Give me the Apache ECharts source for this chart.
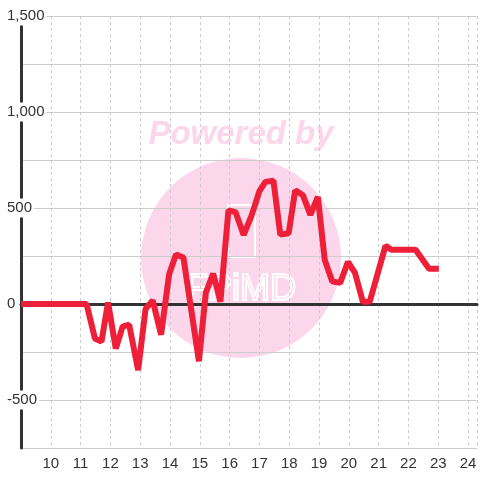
<!DOCTYPE html>
<html>
<head>
<meta charset="utf-8">
<script src="https://cdn.jsdelivr.net/npm/echarts@6/dist/echarts.min.js"></script>
<style>
html, body { margin: 0; padding: 0; background: #fff; }
#chart { width: 480px; height: 480px; }
</style>
</head>
<body>
<div id="chart"></div>
<script>
// x = time of day (hours), y = value
var hours = [9, 11.2, 11.48, 11.7, 11.92, 12.18, 12.41, 12.63, 12.93, 13.18, 13.42, 13.7,
    13.97, 14.2, 14.45, 14.97, 15.2, 15.45, 15.69, 15.96, 16.2, 16.47, 16.73, 17.0, 17.2,
    17.47, 17.7, 17.98, 18.2, 18.46, 18.71, 18.96, 19.19, 19.44, 19.71, 19.97, 20.2, 20.47,
    20.7, 21.23, 21.43, 22.24, 22.69, 23.02];
var values = [0, 0, -180, -196, 8, -232, -118, -108, -345, -25, 18, -160,
    155, 258, 242, -298, 58, 158, 12, 488, 478, 360, 458, 588, 636,
    642, 362, 368, 592, 566, 464, 558, 230, 118, 110, 220, 165, 12,
    12, 303, 282, 282, 184, 184];
var xLabels = [10, 11, 12, 13, 14, 15, 16, 17, 18, 19, 20, 21, 22, 23, 24];
var yLabels = [-500, 0, 500, 1000, 1500];

var points = []
for (var i = 0; i < hours.length; i++) {
    points.push([hours[i], values[i]])
}

var chart = echarts.init(document.getElementById('chart'))
var option = {
    animation: false,
    grid: { left: 21, right: 0, top: 16, bottom: 32 },
    // watermark
    graphic: [
        { type: 'circle', z: -10, shape: { cx: 241, cy: 258, r: 100 }, style: { fill: '#fcd7ec' } },
        { type: 'text', z: -10, style: { x: 241, y: 135, text: 'Powered by', fill: '#fcd7ec',
            font: 'italic bold 33px "Liberation Sans"', textAlign: 'center', textVerticalAlign: 'middle' } },
        { type: 'rect', z: -9, shape: { x: 228, y: 205, width: 27, height: 52 },
            style: { fill: 'none', stroke: '#fff', lineWidth: 2 } },
        { type: 'text', z: -9, style: { x: 241, y: 290, text: 'FPiMD', fill: 'none', stroke: '#fff', lineWidth: 2,
            font: '36px "Liberation Sans"', textAlign: 'center', textVerticalAlign: 'middle' } }
    ],
    xAxis: [{
        type: 'value',
        min: 9,
        max: 24.3,
        interval: 1,
        axisLine: { show: false, onZero: false },
        axisTick: { show: false },
        axisLabel: {
            color: '#333', fontSize: 15, fontFamily: 'Liberation Sans', margin: 8,
            formatter: function (v) { return xLabels.indexOf(v) >= 0 ? String(v) : '' }
        },
        splitLine: { show: true, lineStyle: { color: '#ccc', type: [3, 3], width: 1 } }
    }, {
        type: 'value',
        min: 9,
        max: 24.3,
        position: 'bottom',
        axisLine: { show: true, onZero: true, lineStyle: { color: '#333', width: 3 } },
        axisTick: { show: false },
        axisLabel: { show: false },
        splitLine: { show: false }
    }],
    yAxis: {
        type: 'value',
        min: -750,
        max: 1500,
        interval: 250,
        axisLine: { show: true, onZero: false, lineStyle: { color: '#333', width: 3 } },
        axisTick: { show: false },
        axisLabel: {
            color: '#333', fontSize: 15, fontFamily: 'Liberation Sans', align: 'left', margin: 16,
            backgroundColor: '#fff', padding: [2, 2],
            formatter: function (v) {
                return yLabels.indexOf(v) >= 0 ? v.toLocaleString('en-US') : ''
            }
        },
        splitLine: { show: true, lineStyle: { color: '#ccc', width: 1 } }
    },
    series: [{
        type: 'line',
        xAxisIndex: 0,
        data: points,
        showSymbol: false,
        z: 5,
        lineStyle: { color: '#ee1f38', width: 6, join: 'bevel' }
    }]
}
chart.setOption(option)
</script>
</body>
</html>
